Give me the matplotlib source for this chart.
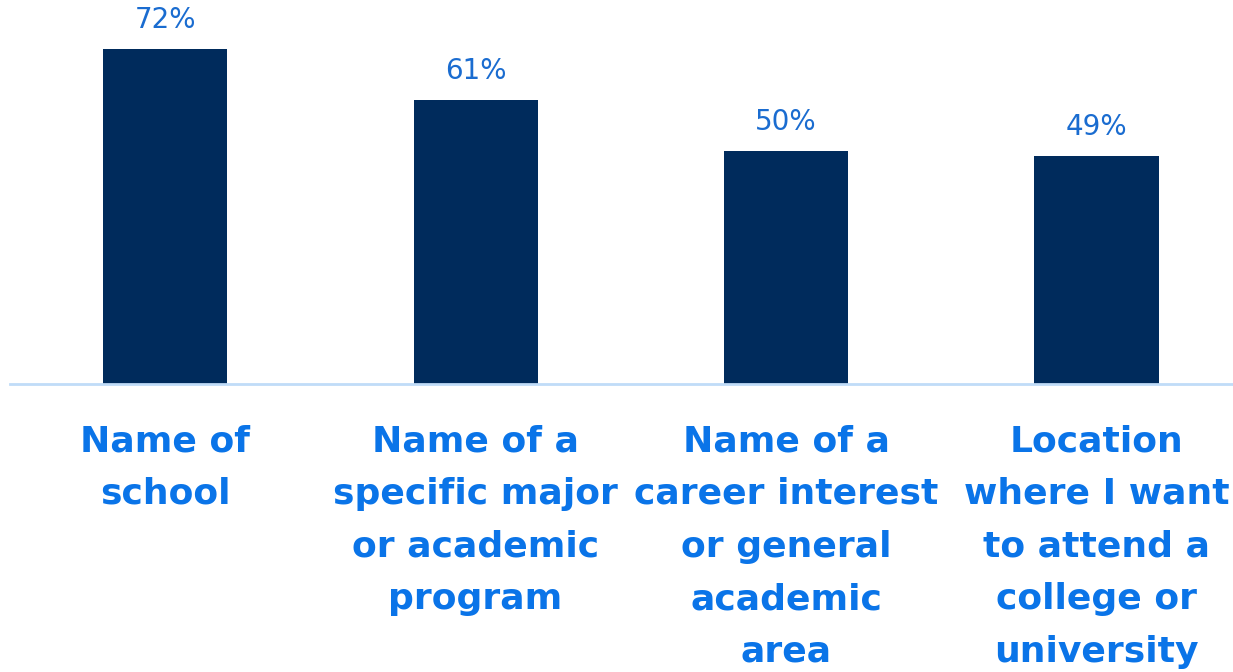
import matplotlib
matplotlib.use("Agg")
import matplotlib.pyplot as plt

categories = [
    "Name of\nschool",
    "Name of a\nspecific major\nor academic\nprogram",
    "Name of a\ncareer interest\nor general\nacademic\narea",
    "Location\nwhere I want\nto attend a\ncollege or\nuniversity",
]
values = [72, 61, 50, 49]

BAR_COLOR = "#002B5C"
VALUE_COLOR = "#1A6CD0"
CAT_COLOR = "#0A74E8"
AXIS_COLOR = "#C0DCF8"

fig = plt.figure(figsize=(12.33, 6.72), dpi=100)
ax = fig.add_axes([10 / 1233, 288 / 672, 1 - 10 / 1233, 372 / 672])

x = list(range(len(categories)))
bars = ax.bar(x, values, width=0.4, color=BAR_COLOR, zorder=2)

for rect, v in zip(bars, values):
    ax.annotate(f"{v}%", xy=(rect.get_x() + rect.get_width() / 2, v),
                xytext=(0, 11), textcoords="offset points",
                ha="center", va="bottom", fontsize=20, color=VALUE_COLOR,
                family="DejaVu Sans")

ax.set_xlim(-0.5, 3.44)
ax.set_ylim(0, 80)
ax.set_xticks(x)
ax.set_xticklabels(categories, fontsize=26, fontweight="bold", color=CAT_COLOR,
                   family="DejaVu Sans", linespacing=1.69)
ax.tick_params(axis="x", length=0, pad=29)
ax.set_yticks([])
for side in ["top", "left", "right"]:
    ax.spines[side].set_visible(False)
ax.spines["bottom"].set_color(AXIS_COLOR)
ax.spines["bottom"].set_linewidth(2)

fig.savefig("out.png", dpi=100)
